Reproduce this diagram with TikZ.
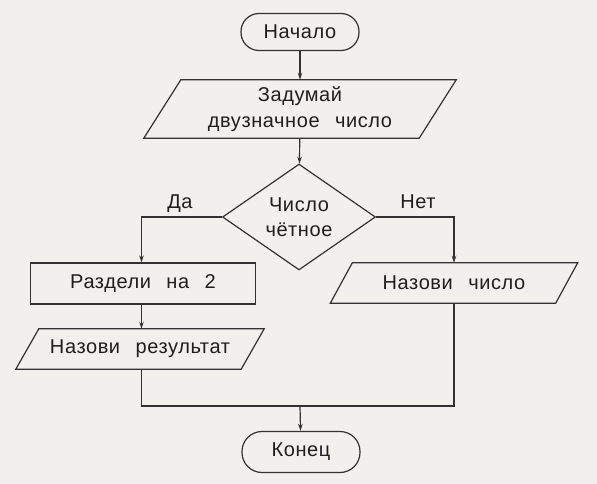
\documentclass[tikz,border=0pt]{standalone}
\usepackage{fontspec}
\setmainfont{Liberation Sans}[LetterSpace=3,WordSpace=2.5]
\usetikzlibrary{arrows.meta,shapes.geometric,calc}
\definecolor{paper}{RGB}{242,240,237}
\definecolor{ink}{RGB}{50,50,50}
\definecolor{txt}{RGB}{30,30,30}
\begin{document}
\begin{tikzpicture}[x=1pt,y=-1pt,
  every node/.style={font=\fontsize{20}{23}\selectfont, text=txt, inner sep=0pt},
  line/.style={draw=ink, line width=1.2pt},
  arr/.style={line, -{Stealth[length=7pt,width=4.5pt]}},
  term/.style={line, rectangle, rounded corners=18pt, minimum width=118pt},
  box/.style={line, rectangle, minimum width=225pt, minimum height=41pt},
  pbox/.style={rectangle, minimum height=40pt, align=center},
  dia/.style={line, diamond, minimum width=153pt, minimum height=103pt, align=center, font=\fontsize{20}{25}\selectfont},
  lbl/.style={}]
\fill[paper] (0,0) rectangle (597,484);
\useasboundingbox (0,0) rectangle (597,484);
% nodes
\node[term, minimum height=37pt] (start) at (300,32) {Начало};
\node[pbox, minimum width=275pt, minimum height=58pt, font=\fontsize{20}{26}\selectfont] (zad) at (300,109) {Задумай\\двузначное число};
\node[dia] (cond) at (299,217) {Число\\чётное};
\node[box] (razd) at (143,283.5) {Раздели на 2};
\node[pbox, minimum width=225pt] (naznum) at (454,283) {Назови число};
\node[pbox, minimum width=225pt] (nazres) at (140,349) {Назови результат};
\node[term, minimum height=41pt, rounded corners=20pt] (fin) at (301,452) {Конец};
\node[lbl] (yes) at (180,204) {Да};
\node[lbl] (no) at (418,202) {Нет};
% parallelogram outlines
\draw[line] ([xshift=18.5pt]zad.north west) -- ([xshift=18.5pt]zad.north east) -- ([xshift=-18.5pt]zad.south east) -- ([xshift=-18.5pt]zad.south west) -- cycle;
\draw[line] ([xshift=11pt]naznum.north west) -- ([xshift=11pt]naznum.north east) -- ([xshift=-11pt]naznum.south east) -- ([xshift=-11pt]naznum.south west) -- cycle;
\draw[line] ([xshift=11.5pt]nazres.north west) -- ([xshift=11.5pt]nazres.north east) -- ([xshift=-11.5pt]nazres.south east) -- ([xshift=-11.5pt]nazres.south west) -- cycle;
% connectors
\draw[arr] (start) -- (zad);
\draw[arr] (zad) -- (cond);
\draw[arr] (cond.west) -| ([xshift=-1.5pt]razd.north);
\draw[arr] (cond.east) -| (naznum.north);
\draw[arr] ([xshift=-1.5pt]razd.south) -- ([xshift=1.5pt]nazres.north);
\coordinate (m) at (300,406);
\draw[line] ([xshift=1.5pt]nazres.south) |- (m) -| (naznum.south);
\draw[arr] (m) -- (fin);
\end{tikzpicture}
\end{document}
